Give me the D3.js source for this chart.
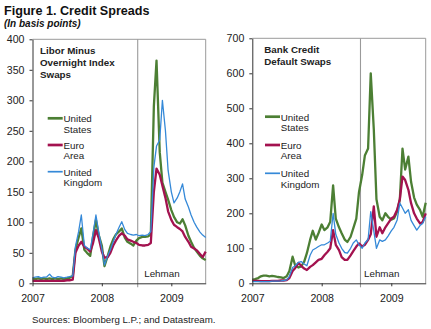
<!DOCTYPE html>
<html>
<head>
<meta charset="utf-8">
<script src="https://cdn.jsdelivr.net/npm/d3@7"></script>
<style>
  body { margin: 0; background: #fff; }
  svg { display: block; font-family: "Liberation Sans", Arial, sans-serif; }
</style>
</head>
<body>
<svg id="chart" width="431" height="329"></svg>
<script>
// ---------------- DATA ----------------
const dates = [
  "2007-01-01","2007-01-15","2007-02-01","2007-02-15","2007-03-01","2007-03-15","2007-04-01","2007-04-15",
  "2007-05-01","2007-05-15","2007-06-01","2007-06-15","2007-07-01","2007-07-15","2007-08-01","2007-08-15",
  "2007-09-01","2007-09-15","2007-10-01","2007-10-15","2007-11-01","2007-11-15","2007-12-01","2007-12-15",
  "2008-01-01","2008-01-15","2008-02-01","2008-02-15","2008-03-01","2008-03-15","2008-04-01","2008-04-15",
  "2008-05-01","2008-05-15","2008-06-01","2008-06-15","2008-07-01","2008-07-15","2008-08-01","2008-08-15",
  "2008-09-01","2008-09-15","2008-10-01","2008-10-15","2008-11-01","2008-11-15","2008-12-01","2008-12-15",
  "2009-01-01","2009-01-15","2009-02-01","2009-02-15","2009-03-01","2009-03-15","2009-04-01","2009-04-15",
  "2009-05-01","2009-05-15","2009-06-01","2009-06-15","2009-07-01"
];

// Libor minus OIS (basis points)
const liborUS = [8,7,8,7,8,7,8,7,8,7,8,7,8,9,12,55,75,90,55,50,45,75,104,80,
  62,28,45,60,72,80,85,90,75,68,65,62,70,74,76,76,77,80,290,365,215,165,150,137,
  120,109,100,98,105,95,78,68,58,52,45,41,38];
const liborEA = [4,4,4,4,4,4,4,4,4,4,4,4,5,5,6,50,62,68,60,57,52,65,87,75,
  52,42,43,50,62,70,78,82,78,72,70,68,66,63,62,62,63,66,150,188,178,160,140,118,
  104,96,92,89,85,76,68,60,57,54,48,43,52];
const liborUK = [9,10,11,9,10,10,15,10,9,11,10,9,10,11,12,60,85,112,62,58,55,80,112,85,
  57,30,45,55,68,80,92,101,88,82,80,79,80,78,79,78,80,85,190,225,235,300,250,185,
  150,132,140,150,163,138,125,112,100,92,84,79,75];

// Bank credit default swaps (basis points)
const cdsUS = [10,12,15,20,22,22,20,21,20,18,17,15,20,35,76,50,45,48,62,86,124,150,125,143,
  168,152,160,176,280,185,160,143,125,118,133,157,185,260,310,365,385,600,440,240,190,180,200,190,
  182,185,205,240,385,325,362,290,245,225,210,190,230];
const cdsEA = [7,7,7,6,6,6,6,7,7,7,8,8,9,15,35,44,58,50,42,38,47,52,60,67,
  70,80,90,100,152,110,95,75,67,67,80,92,105,114,105,110,124,140,220,133,160,143,160,171,
  185,190,210,240,305,295,267,229,200,185,171,175,200];
const cdsUK = [5,5,5,5,5,5,5,6,6,6,7,8,10,20,45,50,60,62,55,50,80,95,100,105,
  110,110,115,120,200,140,115,100,88,86,100,115,124,110,100,115,125,205,150,100,124,120,124,135,
  150,160,181,229,215,200,210,180,165,152,165,171,190];

const seriesNames = ["United States", "Euro Area", "United Kingdom"];
const legendLines = [["United", "States"], ["Euro", "Area"], ["United", "Kingdom"]];
const panelTitles = [["Libor Minus", "Overnight Index", "Swaps"], ["Bank Credit", "Default Swaps"]];
const yTicksLeft = [0, 50, 100, 150, 200, 250, 300, 350, 400];
const yTicksRight = [0, 100, 200, 300, 400, 500, 600, 700];
const xTickYears = ["2007-01-01", "2008-01-01", "2009-01-01"];
const xDomain = ["2007-01-01", "2009-07-01"];
const lehmanDates = ["2008-07-08", "2008-07-23"];
const lehmanLabel = "Lehman";
const titleText = "Figure 1. Credit Spreads";
const subtitleText = "(In basis points)";
const sourceText = "Sources: Bloomberg L.P.; and Datastream.";

// ---------------- STYLE ----------------
const colors = ["#4c7f34", "#a3124f", "#3589d8"];
const widths = [2.3, 2.3, 1.3];

const parse = d3.timeParse("%Y-%m-%d");
const dateObjs = dates.map(parse);

const svg = d3.select("#chart");

svg.append("text").attr("x", 4).attr("y", 15.3)
  .attr("font-size", 12.6).attr("font-weight", "bold").attr("fill", "#111")
  .text(titleText);
svg.append("text").attr("x", 4).attr("y", 26.8)
  .attr("font-size", 10).attr("font-weight", "bold").attr("font-style", "italic").attr("fill", "#111")
  .text(subtitleText);
svg.append("text").attr("x", 32).attr("y", 323)
  .attr("font-size", 9.7).attr("fill", "#222")
  .text(sourceText);

const panels = [
  { x0: 32.5, x1: 205.7, yTop: 39.3, yBot: 283.3, ymax: 400, ticks: yTicksLeft,
    data: [liborUS, liborEA, liborUK], titles: panelTitles[0], titleX: 40, titleY: 54,
    legX: 47.7, legY: [118.3, 145, 171.7], lehman: lehmanDates[0], lehOff: 6.5 },
  { x0: 252.3, x1: 425.7, yTop: 38.3, yBot: 283.3, ymax: 700, ticks: yTicksRight,
    data: [cdsUS, cdsEA, cdsUK], titles: panelTitles[1], titleX: 264.3, titleY: 53.3,
    legX: 265, legY: [116.7, 145, 173.3], lehman: lehmanDates[1], lehOff: 3.5 }
];

panels.forEach(p => {
  const x = d3.scaleTime().domain(xDomain.map(parse)).range([p.x0, p.x1]);
  const y = d3.scaleLinear().domain([0, p.ymax]).range([p.yBot, p.yTop]);
  const g = svg.append("g");

  // frame top and right
  g.append("path")
    .attr("d", `M${p.x0},${p.yTop}H${p.x1}V${p.yBot}`)
    .attr("fill", "none").attr("stroke", "#9a9a9a").attr("stroke-width", 1);

  // Lehman line
  const lx = x(parse(p.lehman));
  g.append("line").attr("x1", lx).attr("x2", lx).attr("y1", p.yTop).attr("y2", p.yBot + 4)
    .attr("stroke", "#9a9a9a").attr("stroke-width", 1.1);
  g.append("text").attr("x", lx + p.lehOff).attr("y", 276.5)
    .attr("font-size", 9.8).attr("fill", "#222").text(lehmanLabel);

  // series
  const line = d3.line().x((d, i) => x(dateObjs[i])).y(d => y(d));
  p.data.forEach((vals, k) => {
    g.append("path").datum(vals)
      .attr("d", line)
      .attr("fill", "none")
      .attr("stroke", colors[k])
      .attr("stroke-width", widths[k])
      .attr("stroke-linejoin", "round");
  });

  // y axis
  const ya = g.append("g").attr("transform", `translate(${p.x0},0)`)
    .call(d3.axisLeft(y).tickValues(p.ticks).tickSize(3).tickSizeOuter(0).tickPadding(5));
  ya.select(".domain").attr("stroke", "#333");
  ya.selectAll(".tick line").attr("stroke", "#333");
  ya.selectAll("text").attr("font-size", 10.6).attr("font-family", "Liberation Sans, Arial, sans-serif").attr("fill", "#222");

  // x axis
  const xa = g.append("g").attr("transform", `translate(0,${p.yBot})`)
    .call(d3.axisBottom(x).tickValues(xTickYears.map(parse)).tickFormat(d3.timeFormat("%Y"))
      .tickSize(3).tickSizeOuter(0).tickPadding(8));
  xa.select(".domain").attr("stroke", "#333");
  xa.selectAll(".tick line").attr("stroke", "#333");
  xa.selectAll("text").attr("font-size", 10.6).attr("font-family", "Liberation Sans, Arial, sans-serif").attr("fill", "#222");

  // panel title
  p.titles.forEach((t, i) => {
    g.append("text").attr("x", p.titleX).attr("y", p.titleY + i * 12)
      .attr("font-size", 9.8).attr("font-weight", "bold").attr("fill", "#222").text(t);
  });

  // legend
  seriesNames.forEach((name, k) => {
    const ly = p.legY[k];
    g.append("line").attr("x1", p.legX).attr("x2", p.legX + 15).attr("y1", ly).attr("y2", ly)
      .attr("stroke", colors[k]).attr("stroke-width", widths[k] + 0.4);
    legendLines[k].forEach((t, j) => {
      g.append("text").attr("x", p.legX + 15.8).attr("y", ly + 3.8 + j * 10.6)
        .attr("font-size", 9.8).attr("fill", "#222").text(t);
    });
  });
});
</script>
</body>
</html>
